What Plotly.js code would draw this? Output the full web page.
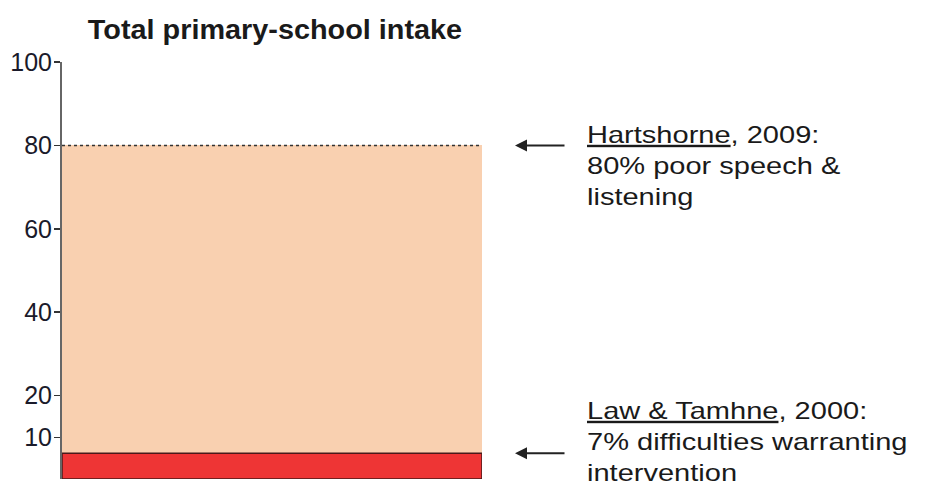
<!DOCTYPE html>
<html>
<head>
<meta charset="utf-8">
<script src="https://cdn.plot.ly/plotly-3.0.1.min.js"></script>
<style>
  html, body { margin: 0; padding: 0; background: #fff; }
  #chart { width: 925px; height: 486px; }
</style>
</head>
<body>
<div id="chart"></div>
<script>
// Data
const category = [0];
const totalIntakeLabel = "Total primary-school intake";
const hartshorneValue = [80];   // % poor speech & listening
const lawTamhneValue = [6.2];   // % difficulties warranting intervention (bar height as drawn)
const yTickVals = [10, 20, 40, 60, 80, 100];
const yTickText = ["10", "20", "40", "60", "80", "100"];
const hartshorneText = "<u>Hartshorne</u>, 2009:<br>80% poor speech &<br>listening";
const lawText = "<u>Law & Tamhne</u>, 2000:<br>7% difficulties warranting<br>intervention";

const FONT = "Liberation Sans, Arial, sans-serif";

const traces = [
  {
    type: "bar",
    x: category,
    y: hartshorneValue,
    width: [1],
    marker: { color: "#F9D0B0", line: { width: 0 } },
    hoverinfo: "skip",
    showlegend: false
  },
  {
    type: "bar",
    x: category,
    y: lawTamhneValue,
    width: [1],
    marker: { color: "#EE3535", line: { width: 1.5, color: "#4a1a1a" } },
    hoverinfo: "skip",
    showlegend: false
  },
  {
    type: "scatter",
    mode: "lines",
    x: [category[0] - 0.5, category[0] + 0.5],
    y: [hartshorneValue[0], hartshorneValue[0]],
    line: { color: "#333", width: 1.5, dash: "dot" },
    hoverinfo: "skip",
    showlegend: false,
    cliponaxis: false
  }
];

const layout = {
  width: 925,
  height: 486,
  paper_bgcolor: "#ffffff",
  plot_bgcolor: "#ffffff",
  margin: { l: 62, r: 443, t: 62, b: 7, pad: 0 },
  barmode: "overlay",
  bargap: 0,
  showlegend: false,
  title: {
    text: "<b>" + totalIntakeLabel + "</b>",
    font: { family: FONT, size: 28, color: "#1a1a1a" },
    x: (275 - 62) / 420, xanchor: "center", xref: "paper",
    y: 1 - 29 / 486, yanchor: "middle", yref: "container"
  },
  xaxis: {
    range: [-0.5, 0.5],
    showgrid: false, zeroline: false, showline: false,
    showticklabels: false, ticks: "", fixedrange: true
  },
  yaxis: {
    range: [0, 100],
    tickvals: yTickVals,
    ticktext: yTickText,
    ticks: "outside",
    ticklen: 6,
    tickwidth: 1.5,
    tickcolor: "#333",
    ticklabelstandoff: -3,
    showline: true,
    linecolor: "#666",
    linewidth: 2,
    showgrid: false,
    zeroline: false,
    tickfont: { family: FONT, size: 25, color: "#1a1a2a" },
    fixedrange: true
  },
  annotations: [
    {
      xref: "paper", yref: "y",
      x: (515 - 62) / 420, y: hartshorneValue[0],
      ax: 51, ay: 0, axref: "pixel", ayref: "pixel",
      text: "", showarrow: true,
      arrowhead: 2, arrowsize: 1.2, arrowwidth: 2, arrowcolor: "#222"
    },
    {
      xref: "paper", yref: "y",
      x: (515 - 62) / 420, y: lawTamhneValue[0],
      ax: 51, ay: 0, axref: "pixel", ayref: "pixel",
      text: "", showarrow: true,
      arrowhead: 2, arrowsize: 1.2, arrowwidth: 2, arrowcolor: "#222"
    },
    {
      xref: "paper", yref: "paper",
      x: (585 - 62) / 420, y: (479 - 119) / 417,
      xanchor: "left", yanchor: "top", align: "left",
      showarrow: false,
      text: hartshorneText,
      font: { family: FONT, size: 24, color: "#1a1a1a" }
    },
    {
      xref: "paper", yref: "paper",
      x: (585 - 62) / 420, y: (479 - 395) / 417,
      xanchor: "left", yanchor: "top", align: "left",
      showarrow: false,
      text: lawText,
      font: { family: FONT, size: 24, color: "#1a1a1a" }
    }
  ]
};

function stretchText(el, sx, anchor) {
  if (!el || !el.textContent || !el.textContent.trim()) return;
  const b = el.getBBox();
  let ax = b.x;
  if (anchor === "middle") ax = b.x + b.width / 2;
  if (anchor === "end") ax = b.x + b.width;
  const prev = el.getAttribute("transform") || "";
  el.setAttribute("transform", prev + " translate(" + ax + ",0) scale(" + sx + ",1) translate(" + (-ax) + ",0)");
}

Plotly.newPlot("chart", traces, layout, { displayModeBar: false, staticPlot: true }).then(function (gd) {
  // the reference lettering is slightly horizontally stretched
  gd.querySelectorAll(".annotation-text").forEach(function (t) { stretchText(t, 1.21, "start"); });
  const title = gd.querySelector(".gtitle");
  stretchText(title, 1.03, "middle");
});
</script>
</body>
</html>
